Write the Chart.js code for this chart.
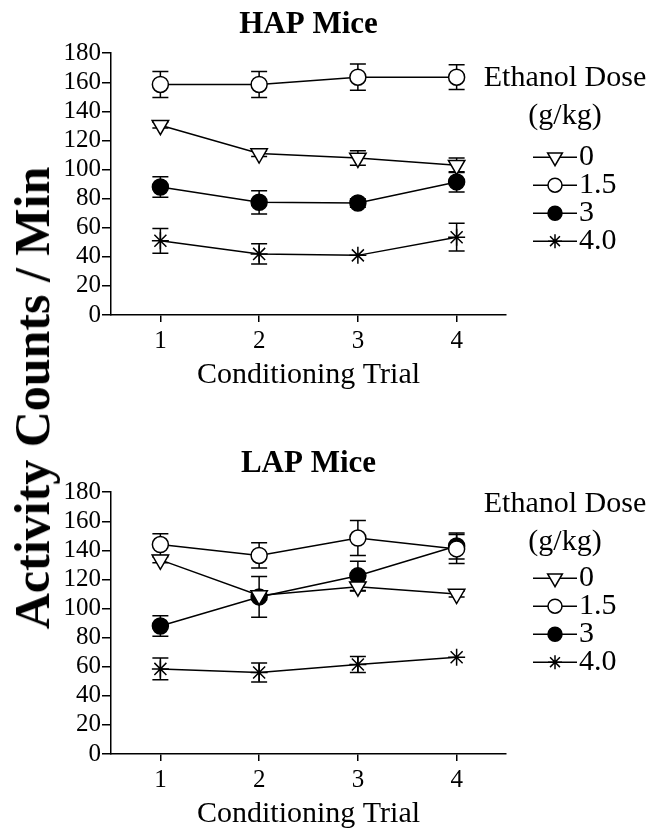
<!DOCTYPE html>
<html>
<head>
<meta charset="utf-8">
<script src="https://cdn.jsdelivr.net/npm/chart.js@4.4.0/dist/chart.umd.min.js"></script>
<style>
  html, body { margin: 0; padding: 0; background: #fff; overflow: hidden; }
  #page { position: relative; width: 667px; height: 829px; }
  .box { position: absolute; left: 0; width: 667px; height: 395px; }
  #ytitle {
    position: absolute; left: 32px; top: 398px;
    transform: translate(-50%, -50%) rotate(-90deg);
    font: bold 50px 'Liberation Serif', 'Times New Roman', serif;
    white-space: nowrap; color: #000;
  }
</style>
</head>
<body>
<div id="page">
  <div class="box" style="top:0"><canvas id="hapChart" width="667" height="395"></canvas></div>
  <div class="box" style="top:439px"><canvas id="lapChart" width="667" height="395"></canvas></div>
  <div id="ytitle">Activity Counts / Min</div>
</div>
<script>
// x categories and legend labels
const trials = ["1", "2", "3", "4"];
const doses = ["0", "1.5", "3", "4.0"];
const yMin = 0, yMax = 180, yStep = 20;

// HAP mice, mean and error per trial
const hapDose0 = [130.5, 111, 108, 103];
const hapDose0Err = [2, 2, 5, 5];
const hapDose15 = [158.5, 158.5, 163.5, 163.5];
const hapDose15Err = [9, 9, 9, 8.5];
const hapDose3 = [88, 77.5, 77, 91.5];
const hapDose3Err = [7, 8, 3, 7];
const hapDose4 = [51, 42, 41, 53.5];
const hapDose4Err = [8.5, 7, 0, 9.5];

// LAP mice
const lapDose0 = [133.5, 109, 115, 110];
const lapDose0Err = [2, 3, 3, 2];
const lapDose15 = [144, 136.5, 148.5, 141];
const lapDose15Err = [7.5, 8.7, 12, 10];
const lapDose3 = [88, 108, 122.5, 143];
const lapDose3Err = [7, 14, 10, 9];
const lapDose4 = [58.5, 56, 61.5, 66.5];
const lapDose4Err = [7.5, 6.5, 5.5, 0];

const serif = "'Liberation Serif', 'Times New Roman', serif";
Chart.defaults.font.family = serif;
Chart.defaults.color = "#000";

const markers = [
  { pointStyle: "triangle", pointRotation: 180, pointRadius: 9.5, pointBackgroundColor: "#fff" },
  { pointStyle: "circle", pointRotation: 0, pointRadius: 8, pointBackgroundColor: "#fff" },
  { pointStyle: "circle", pointRotation: 0, pointRadius: 8, pointBackgroundColor: "#000" },
  { pointStyle: "star", pointRotation: 0, pointRadius: 8.5, pointBackgroundColor: "#000" },
];

function makeDatasets(values, errs) {
  return values.map((v, i) => ({
    label: doses[i],
    data: v,
    errors: errs[i],
    borderColor: "#000",
    borderWidth: 1.5,
    pointBorderColor: "#000",
    pointBorderWidth: 1.5,
    pointHoverRadius: markers[i].pointRadius,
    tension: 0,
    ...markers[i],
  }));
}

// error bars under the markers
const errorBars = {
  id: "errorBars",
  beforeDatasetsDraw(chart) {
    const { ctx, scales: { x, y } } = chart;
    ctx.save();
    ctx.strokeStyle = "#000";
    ctx.lineWidth = 1.5;
    chart.data.datasets.forEach((ds) => {
      ds.errors.forEach((e, j) => {
        if (!e) return;
        const px = x.getPixelForValue(j);
        const hi = y.getPixelForValue(ds.data[j] + e);
        const lo = y.getPixelForValue(ds.data[j] - e);
        ctx.beginPath();
        ctx.moveTo(px, hi); ctx.lineTo(px, lo);
        ctx.moveTo(px - 8, hi); ctx.lineTo(px + 8, hi);
        ctx.moveTo(px - 8, lo); ctx.lineTo(px + 8, lo);
        ctx.stroke();
      });
    });
    ctx.restore();
  },
};

// legend on the right: heading + one row per dose
const doseLegend = {
  id: "doseLegend",
  afterDraw(chart, args, opts) {
    const ctx = chart.ctx;
    const r = chart.chartArea.right;
    const top = chart.chartArea.top + opts.offset;
    ctx.save();
    ctx.fillStyle = "#000";
    ctx.font = "30px " + serif;
    ctx.textAlign = "center";
    ctx.textBaseline = "middle";
    ctx.fillText("Ethanol Dose", r + 59, top);
    ctx.fillText("(g/kg)", r + 59, top + 38);
    chart.data.datasets.forEach((ds, i) => {
      const y = top + opts.rows + i * 28;
      ctx.strokeStyle = "#000";
      ctx.lineWidth = 1.5;
      ctx.beginPath();
      ctx.moveTo(r + 27, y);
      ctx.lineTo(r + 71, y);
      ctx.stroke();
      ctx.fillStyle = ds.pointBackgroundColor;
      Chart.helpers.drawPoint(ctx, {
        pointStyle: ds.pointStyle,
        rotation: ds.pointRotation,
        radius: ds.pointStyle === "triangle" ? 8.5 : 7,
        borderWidth: 1.5,
      }, r + 49, y);
      ctx.fillStyle = "#000";
      ctx.textAlign = "left";
      ctx.fillText(ds.label, r + 73, y);
    });
    ctx.restore();
  },
};

function makeChart(id, title, values, errs, legendOffset, legendRows) {
  return new Chart(document.getElementById(id), {
    type: "line",
    data: { labels: trials, datasets: makeDatasets(values, errs) },
    options: {
      responsive: false,
      animation: false,
      layout: { padding: { left: 51, right: 161, top: 0, bottom: 0 } },
      plugins: {
        legend: { display: false },
        tooltip: { enabled: false },
        title: {
          display: true, text: title, fullSize: false, color: "#000",
          font: { size: 31, weight: "bold" },
          padding: { top: 6, bottom: 10 },
        },
        doseLegend: { offset: legendOffset, rows: legendRows },
      },
      scales: {
        x: {
          offset: true,
          grid: { drawOnChartArea: false, tickLength: 7, color: "#000", lineWidth: 1.5 },
          border: { color: "#000", width: 1.5 },
          ticks: { font: { size: 25 }, padding: 4, color: "#000" },
          title: {
            display: true, text: "Conditioning Trial", color: "#000",
            font: { size: 30 }, padding: { top: 0, bottom: 2 },
          },
          afterFit: (s) => { s.height = 80; },
        },
        y: {
          min: yMin, max: yMax,
          grid: { drawOnChartArea: false, tickLength: 9, color: "#000", lineWidth: 1.5 },
          border: { color: "#000", width: 1.5 },
          ticks: { stepSize: yStep, autoSkip: false, font: { size: 25 }, padding: 1, color: "#000" },
          afterFit: (s) => { s.width = 60; },
        },
      },
    },
    plugins: [errorBars, doseLegend],
  });
}

makeChart("hapChart", "HAP Mice",
  [hapDose0, hapDose15, hapDose3, hapDose4],
  [hapDose0Err, hapDose15Err, hapDose3Err, hapDose4Err], 25, 79);
makeChart("lapChart", "LAP Mice",
  [lapDose0, lapDose15, lapDose3, lapDose4],
  [lapDose0Err, lapDose15Err, lapDose3Err, lapDose4Err], 12, 74);
</script>
</body>
</html>
